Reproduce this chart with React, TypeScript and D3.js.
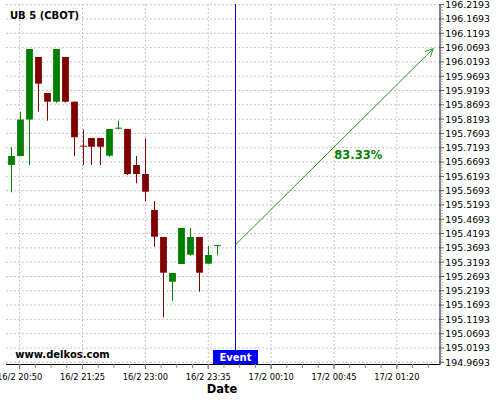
import React from "react";
import * as d3 from "d3";

// ---- data ----
const title = "UB 5 (CBOT)";
const candleTimes = [
  "16/2 20:45", "16/2 20:50", "16/2 20:55", "16/2 21:00", "16/2 21:05", "16/2 21:10",
  "16/2 21:15", "16/2 21:20", "16/2 21:25", "16/2 21:30", "16/2 21:35", "16/2 21:40",
  "16/2 21:45", "16/2 21:50", "16/2 21:55", "16/2 23:00", "16/2 23:05", "16/2 23:10",
  "16/2 23:15", "16/2 23:20", "16/2 23:25", "16/2 23:30", "16/2 23:35", "16/2 23:40",
];
const opens = [
  195.659, 195.6904, 195.818, 196.0365, 195.9106, 195.8802, 196.0365, 195.8802,
  195.7265, 195.7533, 195.7533, 195.6915, 195.7872, 195.7848, 195.659, 195.6275,
  195.5017, 195.4073, 195.251, 195.3129, 195.3454, 195.4073, 195.314, 195.3776,
];
const highs = [
  195.7208, 195.8453, 196.0644, 196.0365, 195.9106, 196.0644, 196.0365, 195.8802,
  195.7831, 195.7533, 195.7533, 195.7848, 195.8138, 195.7848, 195.6904, 195.7523,
  195.5331, 195.4073, 195.2815, 195.4387, 195.4387, 195.4073, 195.3758, 195.3795,
];
const lows = [
  195.5635, 195.6904, 195.659, 195.8453, 195.8138, 195.8767, 195.8767, 195.6904,
  195.659, 195.659, 195.659, 195.688, 195.7838, 195.624, 195.595, 195.5331,
  195.3734, 195.1266, 195.1846, 195.3129, 195.3419, 195.2161, 195.314, 195.3433,
];
const closes = [
  195.6904, 195.818, 196.0644, 195.9432, 195.8802, 196.0644, 195.8802, 195.7558,
  195.7245, 195.7229, 195.7229, 195.7848, 195.7893, 195.6275, 195.6275, 195.5656,
  195.4083, 195.2825, 195.2815, 195.4387, 195.4073, 195.2825, 195.3444, 195.379,
];
const xTickLabels = [
  "16/2 20:50", "16/2 21:25", "16/2 23:00", "16/2 23:35",
  "17/2 00:10", "17/2 00:45", "17/2 01:20",
];
const xTickIndex = [1, 8, 15, 22, 29, 36, 43];
const yTickLabels = [
  "194.9693", "195.0193", "195.0693", "195.1193", "195.1693", "195.2193", "195.2693",
  "195.3193", "195.3693", "195.4193", "195.4693", "195.5193", "195.5693", "195.6193",
  "195.6693", "195.7193", "195.7693", "195.8193", "195.8693", "195.9193", "195.9693",
  "196.0193", "196.0693", "196.1193", "196.1693", "196.2193",
];
const eventIndex = 25;
const eventLabel = "Event";
const arrowStart = { index: 25, price: 195.379 };
const arrowEnd = { index: 47.05, price: 196.0655 };
const probabilityLabel = "83.33%";
const watermark = "www.delkos.com";
const xAxisTitle = "Date";

// ---- layout ----
const W = 500;
const H = 400;
const left = 6;
const right = 439.5;
const top = 4;
const bottom = 364;
const FONT = "DejaVu Sans";
const GREEN = "#008000";
const RED = "#800000";

export default function App() {
  const x = d3.scaleLinear().domain([-0.52, 47.75]).range([left, right]);
  const y = d3.scaleLinear().domain([194.9634, 196.2217]).range([bottom, top]);
  const yTicks = yTickLabels.map((s) => +s);
  const bodyW = 6.8;

  const minorX: number[] = [];
  for (let v = xTickIndex[0] - 1.75; v <= 47.75; v += 1.75) {
    if (x(v) >= left && x(v) <= right) minorX.push(v);
  }
  const minorY: number[] = [];
  for (let k = 0; k < (yTicks.length - 1) * 5; k++) {
    if (k % 5 !== 0) minorY.push(yTicks[0] + k * 0.01);
  }

  const ax = x(arrowStart.index);
  const ay = y(arrowStart.price);
  const bx = x(arrowEnd.index);
  const by = y(arrowEnd.price);
  const ang = Math.atan2(by - ay, bx - ax);
  const hl = 9;
  const ha = (26 * Math.PI) / 180;
  const h1 = [bx - hl * Math.cos(ang - ha), by - hl * Math.sin(ang - ha)];
  const h2 = [bx - hl * Math.cos(ang + ha), by - hl * Math.sin(ang + ha)];

  const ex = Math.round(x(eventIndex)) + 0.5;

  return (
    <svg
      width={W}
      height={H}
      style={{ position: "absolute", left: 0, top: 0, background: "#fff" }}
      fontFamily={FONT}
    >
      <rect x={0} y={0} width={W} height={H} fill="#fff" />
      {/* grid */}
      {yTicks.map((v, i) => (
        <line
          key={"gy" + i}
          x1={left}
          x2={right}
          y1={y(v)}
          y2={y(v)}
          stroke="#c4c4c4"
          strokeWidth={1}
          strokeDasharray="2,2"
        />
      ))}
      {xTickIndex.map((v, i) => (
        <line
          key={"gx" + i}
          x1={x(v)}
          x2={x(v)}
          y1={top}
          y2={bottom}
          stroke="#c4c4c4"
          strokeWidth={1}
          strokeDasharray="2,2"
        />
      ))}

      {/* candles */}
      {candleTimes.map((t, i) => {
        const up = closes[i] >= opens[i];
        const c = up ? GREEN : RED;
        const cx = Math.round(x(i)) + 0.5;
        const yt = y(Math.max(opens[i], closes[i]));
        const yb = y(Math.min(opens[i], closes[i]));
        const bh = Math.max(1, yb - yt);
        return (
          <g key={t}>
            <line x1={cx} x2={cx} y1={y(highs[i])} y2={y(lows[i])} stroke={c} strokeWidth={1} />
            <rect x={cx - bodyW / 2} y={yt} width={bodyW} height={bh} fill={c} />
          </g>
        );
      })}

      {/* event line */}
      <line x1={ex} x2={ex} y1={top} y2={350} stroke="#0000d8" strokeWidth={1} />
      <rect x={ex - 22.5} y={350} width={45} height={14} fill="#0000ff" />
      <text
        x={ex}
        y={361}
        textAnchor="middle"
        fontSize={10}
        fontWeight="bold"
        fill="#fff"
      >
        {eventLabel}
      </text>

      {/* arrow */}
      <line x1={ax} y1={ay} x2={bx} y2={by} stroke="#1e9a1e" strokeWidth={1} />
      <polyline
        points={`${h1[0]},${h1[1]} ${bx},${by} ${h2[0]},${h2[1]}`}
        fill="none"
        stroke="#1e9a1e"
        strokeWidth={1}
      />
      <text x={x(36) + 0.3} y={159.3} fontSize={11.5} fontWeight="bold" fill={GREEN}>
        {probabilityLabel}
      </text>

      {/* axes */}
      <line x1={left} x2={right} y1={bottom + 0.5} y2={bottom + 0.5} stroke="#000" strokeWidth={1} />
      <line x1={right + 0.5} x2={right + 0.5} y1={top} y2={bottom + 1} stroke="#000" strokeWidth={1} />

      {xTickIndex.map((v, i) => (
        <g key={"xt" + i}>
          <line x1={x(v)} x2={x(v)} y1={bottom} y2={bottom + 5} stroke="#555" strokeWidth={1} />
          <text x={x(v)} y={380} textAnchor="middle" fontSize={8.3} fill="#000">
            {xTickLabels[i]}
          </text>
        </g>
      ))}
      {minorX.map((v, i) => (
        <line key={"mx" + i} x1={x(v)} x2={x(v)} y1={bottom} y2={bottom + 4} stroke="#888" strokeWidth={1} />
      ))}

      {yTicks.map((v, i) => (
        <g key={"yt" + i}>
          <line x1={right} x2={right + 4.5} y1={y(v)} y2={y(v)} stroke="#555" strokeWidth={1} />
          <text x={445.3} y={y(v) + 3.4} fontSize={9.4} fill="#000">
            {yTickLabels[i]}
          </text>
        </g>
      ))}
      {minorY.map((v, i) => (
        <line key={"my" + i} x1={right} x2={right + 3} y1={y(v)} y2={y(v)} stroke="#999" strokeWidth={1} />
      ))}

      {/* texts */}
      <text x={10} y={19} fontSize={10} fontWeight="bold" fill="#000">
        {title}
      </text>
      <text x={15.3} y={357.5} fontSize={10} fontWeight="bold" fill="#000">
        {watermark}
      </text>
      <text x={222} y={393.3} textAnchor="middle" fontSize={11.5} fontWeight="bold" fill="#000">
        {xAxisTitle}
      </text>
    </svg>
  );
}
